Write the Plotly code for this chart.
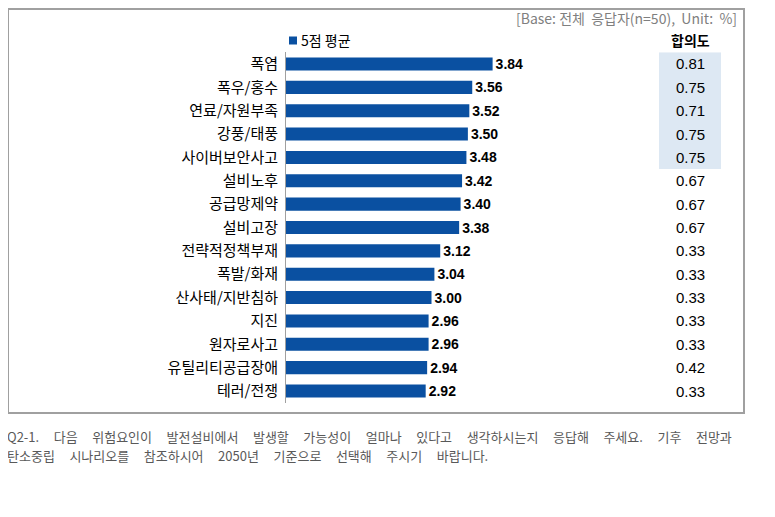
import plotly.graph_objects as go

categories = ["폭염", "폭우/홍수", "연료/자원부족", "강풍/태풍", "사이버보안사고", "설비노후",
              "공급망제약", "설비고장", "전략적정책부재", "폭발/화재", "산사태/지반침하", "지진",
              "원자로사고", "유틸리티공급장애", "테러/전쟁"]
mean_scores = [3.84, 3.56, 3.52, 3.50, 3.48, 3.42, 3.40, 3.38, 3.12, 3.04, 3.00, 2.96, 2.96, 2.94, 2.92]
agreement = [0.81, 0.75, 0.71, 0.75, 0.75, 0.67, 0.67, 0.67, 0.33, 0.33, 0.33, 0.33, 0.33, 0.42, 0.33]
highlight_count = 5
legend_label = "5점 평균"
caption_lines = [
    "Q2-1. 다음 위험요인이 발전설비에서 발생할 가능성이 얼마나 있다고 생각하시는지 응답해 주세요. 기후 전망과",
    "탄소중립 시나리오를 참조하시어 2050년 기준으로 선택해 주시기 바랍니다.",
]

W, H = 775, 517
OFF = 8  # page body margin
KR = "Noto Sans CJK KR"
AR = "Liberation Sans, Arial"
BLUE = "#0A50A1"

def px(x):
    return (x - OFF) / W

def py(y):
    return 1 - (y - OFF) / H

def wide_spaces(s, n=5):
    return s.replace(" ", " " * n)

fig = go.Figure()
fig.add_trace(go.Bar(
    y=categories, x=mean_scores, orientation="h",
    marker=dict(color=BLUE, line=dict(width=0)),
    width=0.56,
    name=legend_label,
    text=[f"{v:.2f}" for v in mean_scores],
    textposition="outside",
    constraintext="none",
    textfont=dict(family=AR, size=14, color="#000000"),
    texttemplate="<b>%{text}</b>",
    cliponaxis=False,
    showlegend=False,
))

shapes = [
    dict(type="rect", xref="paper", yref="paper", x0=px(8), x1=px(744), y0=py(413), y1=py(9),
         line=dict(color="#A0A0A0", width=2), fillcolor="rgba(0,0,0,0)", layer="below"),
    dict(type="rect", xref="paper", yref="y", x0=px(659), x1=px(721),
         y0=-0.5, y1=highlight_count - 0.5,
         line=dict(width=0), fillcolor="#DDE8F3", layer="below"),
    dict(type="rect", xref="paper", yref="paper", x0=px(289), x1=px(297), y0=py(44.5), y1=py(36.5),
         line=dict(width=0), fillcolor=BLUE),
]

annotations = [
    dict(text="[Base: 전체  응답자(n=50),  Unit:  %]", xref="paper", yref="paper",
         x=px(739), y=py(18), xanchor="right", yanchor="middle", showarrow=False,
         font=dict(family=KR, size=14, color="#7F7F7F")),
    dict(text="<b>합의도</b>", xref="paper", yref="paper", x=px(690), y=py(40),
         xanchor="center", yanchor="middle", showarrow=False,
         font=dict(family=KR, size=14, color="#000000")),
    dict(text=legend_label, xref="paper", yref="paper", x=px(299), y=py(40),
         xanchor="left", yanchor="middle", showarrow=False,
         font=dict(family=KR, size=14, color="#000000")),
]
for i, line in enumerate(caption_lines):
    annotations.append(dict(text=wide_spaces(line), xref="paper", yref="paper", x=px(6),
                            y=py(436.5 + 18.5 * i), xanchor="left", yanchor="middle",
                            align="left", showarrow=False, borderpad=0,
                            font=dict(family=KR, size=13, color="#595959")))
for cat, a in zip(categories, agreement):
    annotations.append(dict(text=f"{a:.2f}", xref="paper", yref="y", x=px(690), y=cat,
                            xanchor="center", yanchor="middle", showarrow=False,
                            font=dict(family=AR, size=15, color="#000000")))

fig.update_layout(
    width=W, height=H,
    margin=dict(l=0, r=0, t=0, b=0),
    paper_bgcolor="white", plot_bgcolor="white",
    shapes=shapes,
    annotations=annotations,
    showlegend=False,
    xaxis=dict(domain=[px(286), px(577)], range=[1, 5], showgrid=False, zeroline=False,
               showticklabels=False, showline=False, automargin=False, fixedrange=True),
    yaxis=dict(domain=[py(402.7), py(52.3)], autorange="reversed", showgrid=False,
               zeroline=False, showline=True, linecolor="#A0A0A0", linewidth=1,
               ticks="outside", ticklen=4, tickcolor="rgba(0,0,0,0)",
               tickfont=dict(family=KR, size=15, color="#000000"), automargin=False,
               categoryorder="array", categoryarray=categories),
)

fig.write_html("out.html")
